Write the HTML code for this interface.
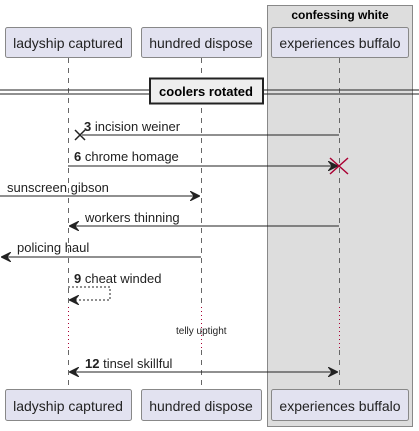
<html><body style="margin:0;background:#fff">
<svg width="419" height="431" xmlns="http://www.w3.org/2000/svg" font-family="Liberation Sans, sans-serif" font-size="12">
<defs>
<marker id="o" viewBox="0 0 10 10" refX="10" refY="5" markerWidth="10" markerHeight="10" orient="auto-start-reverse" markerUnits="userSpaceOnUse"><path d="M0,0 L10,5 L0,10 L4,5 Z" fill="#222" stroke="#222" stroke-width="0.8"/></marker>
</defs>
<rect x="267.5" y="5.5" width="145" height="421" fill="#ddd" stroke="#888"/>
<text x="340" y="19" text-anchor="middle" font-weight="bold" font-size="12">confessing white</text>
<g stroke="#666" stroke-dasharray="5,5">
<line x1="68.5" y1="58" x2="68.5" y2="307"/><line x1="68.5" y1="350" x2="68.5" y2="389"/>
<line x1="201.5" y1="58" x2="201.5" y2="307"/><line x1="201.5" y1="350" x2="201.5" y2="389"/>
<line x1="339.5" y1="58" x2="339.5" y2="307"/><line x1="339.5" y1="350" x2="339.5" y2="389"/>
</g>
<g stroke="#a03" stroke-dasharray="1,3"><line x1="68.5" y1="307" x2="68.5" y2="350"/><line x1="201.5" y1="307" x2="201.5" y2="350"/><line x1="339.5" y1="307" x2="339.5" y2="350"/></g>
<g fill="#e2e2f0" stroke="#888">
<rect x="5.5" y="27.5" width="126" height="30" rx="2"/><rect x="141.5" y="27.5" width="120" height="30" rx="2"/><rect x="271.5" y="27.5" width="137" height="30" rx="2"/>
<rect x="5.5" y="389.5" width="126" height="31" rx="2"/><rect x="141.5" y="389.5" width="120" height="31" rx="2"/><rect x="271.5" y="389.5" width="137" height="31" rx="2"/>
</g>
<g font-size="14" fill="#222" text-anchor="middle">
<text x="68" y="48">ladyship captured</text><text x="201" y="48">hundred dispose</text><text x="340" y="48">experiences buffalo</text>
<text x="68" y="411">ladyship captured</text><text x="201" y="411">hundred dispose</text><text x="340" y="411">experiences buffalo</text>
</g>
<g stroke="#222"><line x1="0" y1="90" x2="419" y2="90"/><line x1="0" y1="94" x2="419" y2="94"/></g>
<rect x="150" y="78.5" width="113" height="25" fill="#eee" stroke="#222" stroke-width="2"/>
<text x="206" y="96" text-anchor="middle" font-weight="bold" font-size="13">coolers rotated</text>
<g stroke="#222" fill="none">
<line x1="339" y1="135" x2="82" y2="135"/>
<path d="M75,130 L85,140 M85,130 L75,140" stroke-width="1.5"/>
<line x1="68" y1="166" x2="338" y2="166" marker-end="url(#o)"/>
<line x1="0" y1="196" x2="200" y2="196" marker-end="url(#o)"/>
<line x1="339" y1="226" x2="69" y2="226" marker-end="url(#o)"/>
<line x1="201" y1="257" x2="1" y2="257" marker-end="url(#o)"/>
<path d="M68,287 H110 V300 H69" stroke-dasharray="2,2" marker-end="url(#o)"/>
<line x1="69" y1="372" x2="338" y2="372" marker-start="url(#o)" marker-end="url(#o)"/>
</g>
<path d="M330,158 L348,174 M348,158 L330,174" stroke="#a03" stroke-width="1.5"/>
<g fill="#222" font-size="13">
<text x="84" y="131"><tspan font-weight="bold">3</tspan> incision weiner</text>
<text x="74" y="161"><tspan font-weight="bold">6</tspan> chrome homage</text>
<text x="7" y="192">sunscreen gibson</text>
<text x="85" y="222">workers thinning</text>
<text x="17" y="252">policing haul</text>
<text x="74" y="283"><tspan font-weight="bold">9</tspan> cheat winded</text>
<text x="176" y="334" font-size="10">telly uptight</text>
<text x="85" y="368"><tspan font-weight="bold">12</tspan> tinsel skillful</text>
</g>
</svg>
</body></html>
